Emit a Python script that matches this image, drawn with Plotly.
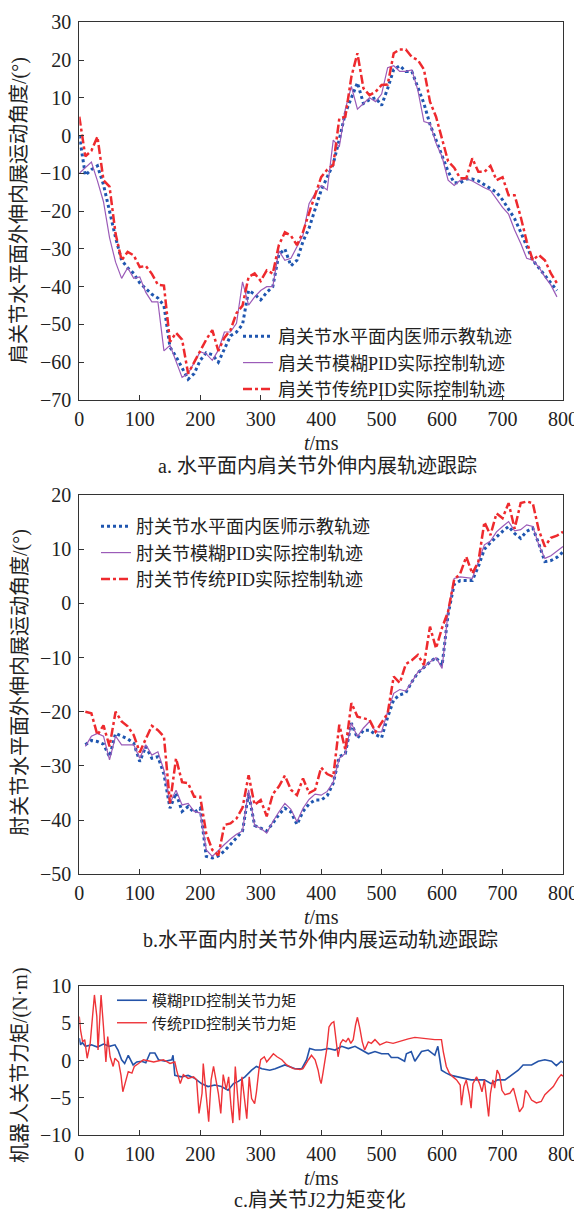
import plotly.graph_objects as go

# ---------------- Panel a data (shoulder, horizontal plane) ----------------
t_a = list(range(0, 800, 10))
a_teach = [0, -10.5, -9, -8, -13, -20, -27, -33, -35, -36.5,
           -39, -40.5, -42, -43, -45, -56, -58.5, -61.5, -64.5, -63,
           -59.5, -57.5, -58, -60, -56.5, -53, -52, -50, -41, -42,
           -43.5, -41.5, -40, -31.5, -30, -34.5, -33, -28, -24.5, -19.5,
           -14.5, -11, -7.5, -1, 6, 10, 14, 8.5, 9.5, 10,
           8, 12.5, 17.5, 18.5, 17, 17, 13, 8.5, 3, -1,
           -5, -9.5, -12.5, -12.5, -11.5, -11.5, -12, -13, -14, -15,
           -17, -19.5, -22, -25.5, -29.5, -33, -35, -37, -39, -41]
a_fuzzy = [-10, -8.5, -7, -12, -17.5, -27, -33.5, -37.8, -35, -37.8,
           -37.4, -41.5, -44, -44, -57, -55.5, -59.5, -64, -63, -60,
           -57.2, -57.8, -59.5, -56.8, -52, -52, -49.7, -38.7, -44.9, -42.7,
           -41, -40, -40, -30.5, -33, -32.5, -29.4, -26.3, -18, -15.3,
           -13.2, -14.4, -1.2, -3, 7, 13, 7, 8.5, 10, 9,
           11, 18, 18.5, 17, 17, 17.4, 12, 3.7, 3.2, -2,
           -5.6, -11.8, -13.2, -11.8, -11.4, -12, -13, -13.8, -14.5, -16.8,
           -19, -20.8, -25, -28.5, -32.5, -33, -34.8, -37.4, -39.6, -42.7]
a_pid = [5, -5.5, -4, -0.3, -11.8, -13.5, -26, -33, -30.8, -31.7,
         -34.8, -34.5, -36.6, -39.5, -39.7, -54.6, -52.2, -54, -63, -60,
         -57, -54, -51.5, -57, -53.5, -51.5, -47, -45, -37.4, -36.5,
         -38.5, -35.7, -36.5, -29, -25.6, -26.5, -29, -25.5, -20.5, -16,
         -11, -9, -7.8, 4.5, 5, 15.6, 21.8, 12.5, 10.7, 11.6,
         13.4, 13.5, 21.8, 22.8, 22.8, 20.8, 20, 17.5, 9, 5,
         -1, -6.8, -8.5, -11.3, -11.3, -6, -9.6, -9.6, -8, -11.8,
         -11, -15.8, -15.8, -21.5, -28, -33, -31.6, -33, -36.5, -39.1]

# ---------------- Panel b data (elbow, horizontal plane) ----------------
t_b = list(range(10, 810, 10))
b_teach = [-26.1, -25.3, -25.5, -26, -28.3, -24, -24.5, -25, -25.8, -29.2,
           -26.4, -28.6, -28.3, -31.5, -37.8, -35, -38.4, -37.5, -38.6, -37.8,
           -46.7, -47, -46.6, -45.7, -44.5, -43.2, -42, -35, -41, -41.5,
           -42, -40.6, -39, -37.8, -38.5, -40.8, -38.4, -37, -36.3, -36.3,
           -35.5, -33.2, -28.3, -27.7, -22.1, -24.9, -23.4, -23.4, -24.2, -24.8,
           -21, -17.8, -16.9, -16.5, -14.5, -12.8, -11.8, -10.8, -10, -11.5,
           -2, 3.5, 4.2, 4.2, 4.2, 6.8, 10, 11.2, 12.3, 13.3,
           14.2, 12.9, 12, 13.3, 13.9, 11, 7.7, 7.9, 8.5, 9.5]
b_fuzzy = [-26.4, -24.5, -24, -24.5, -28.9, -24.5, -26.1, -26.1, -26.1, -28.6,
           -26.1, -28, -27.4, -30.8, -36.9, -34.5, -37.2, -36.9, -38.4, -38.7,
           -45.5, -46.7, -45.5, -44.5, -43.5, -42.6, -42, -34.4, -41, -41.5,
           -42.4, -40.3, -38.5, -36.9, -38, -40.3, -37.8, -36.2, -35.2, -35.4,
           -34.7, -33, -28.6, -27.7, -22.1, -24.6, -23, -21.8, -23.7, -23.7,
           -20, -16.6, -15.9, -16.2, -14.5, -12.7, -11.8, -10.8, -10, -12,
           -1.5, 4.6, 4.9, 4.7, 4.6, 7.7, 10.8, 11.5, 13.2, 14.2,
           15.1, 13.4, 13.6, 14.5, 14.2, 10.8, 8.3, 8.8, 9.6, 10.5]
b_pid = [-20, -20.3, -24.3, -22.5, -26.4, -20, -21.8, -22.7, -24.3, -27.5,
         -25, -22.6, -23.4, -24.6, -36.9, -28.6, -33, -33.2, -35.7, -35.7,
         -42.5, -45.5, -46.5, -40.9, -40.6, -39.7, -37.7, -31.7, -37.2, -36.3,
         -39.3, -35.2, -33.8, -31.8, -34.4, -35.4, -32.3, -35, -34.4, -30.3,
         -31.5, -32, -22.4, -27, -18.4, -20.9, -21.2, -21.5, -23.7, -22,
         -20.3, -13.5, -14.7, -11.2, -10.5, -9.5, -11.4, -4.3, -8.3, -4.5,
         -1.5, 4.4, 5.5, 8.6, 5.5, 7.7, 15, 12.6, 16.6, 15.7,
         18.5, 13.8, 18.5, 18.8, 18.5, 13.5, 10.5, 12.1, 12.5, 13.2]

# ---------------- Panel c data (J2 torque) ----------------
t_c_fuzzy = [0, 2, 5, 10, 20, 30, 40, 50, 59, 64, 70, 75, 81, 89, 95, 103,
             110, 117, 125, 131, 142, 153, 155, 158, 169, 180, 191, 202, 213,
             224, 235, 246, 255, 263, 274, 285, 293, 302, 315, 324, 340, 357,
             368, 376, 381, 390, 400, 412, 423, 434, 445, 456, 467, 478, 489,
             500, 511, 516, 527, 538, 541, 549, 555, 560, 566, 577, 588, 593,
             599, 607, 615, 626, 637, 648, 659, 670, 681, 692, 704, 715, 726,
             734, 748, 759, 770, 781, 789, 797, 800]
c_fuzzy = [3, 2.1, 2.4, 1.9, 2.1, 1.8, 2.2, 1.9, 2.1, 1.4, 0.1, -0.4, 0.7,
           -0.6, -0.2, -0.1, -0.3, 1, 1, 0.1, -0.1, 0.1, 0.7, -2, -2.2, -2,
           -2.4, -3.1, -3.5, -3.3, -3.5, -4, -3.1, -2.8, -2.2, -1.3, -0.8,
           -1.1, -1.3, -1.1, -0.6, -1.1, -1.1, 0.1, 1.6, 1.4, 1.4, 1.6, 1.4,
           1.9, 1.6, 1.9, 1.4, 0.9, 1.2, 0.9, 0.9, 0.4, 0.4, -0.1, 0.9, 1.2,
           -0.1, 0.5, 1.2, 1.4, 0.7, 1.9, -1.3, -1.7, -2, -2.2, -2.4, -2.6,
           -2.6, -2.6, -3.1, -2.6, -2.6, -2, -1.3, -0.6, -0.6, -0.1, 0.1,
           -0.1, -0.7, -0.1, -0.3]
t_c_pid = [0, 2, 5.5, 9, 13, 18, 25, 29, 31, 36, 40, 44, 47, 51, 56, 59, 65,
           69, 72, 76, 81, 87, 91, 98, 101, 106, 123, 139, 150, 158, 161,
           167, 172, 180, 189, 194, 198, 203, 205, 209, 214, 218, 222, 226,
           230, 234, 238, 243, 247, 251, 254, 258, 262, 265, 269, 272, 277,
           281, 285, 290, 293, 297, 300, 306, 310, 315, 321, 327, 335, 343,
           354, 365, 370, 379, 384, 390, 395, 398, 400, 403, 409, 413, 417,
           421, 424, 428, 432, 436, 441, 445, 449, 453, 457, 460, 464, 468,
           472, 478, 483, 489, 497, 508, 519, 527, 536, 544, 555, 566, 577,
           588, 599, 602, 607, 612, 618, 624, 630, 632, 636, 640, 645, 648,
           651, 657, 662, 666, 670, 674, 677, 680, 684, 687, 691, 695, 699,
           704, 712, 718, 723, 728, 734, 738, 742, 748, 756, 764, 770, 775,
           784, 792, 797, 800]
c_pid = [5.9, 4.1, 2.5, 2.8, 0.3, 2.3, 8.8, 5.9, 1.4, 8.8, 4.5, -0.2, 3.2,
         0.5, -0.8, 0.3, -0.2, -2, -4.2, -3.1, -1.5, -1.7, -0.8, -0.4, -0.2,
         0.1, -0.2, 0.1, -0.4, -0.2, -1.3, -3.1, -1.9, -2.4, -2.2, -2.6,
         -7.1, -4.4, -0.4, -4.4, -8.2, -2.6, -0.8, -2.6, -4.4, -7.1, -1.9,
         -3.9, -2.2, -6.2, -8.4, -0.8, -5.3, -8, -2.2, -4.2, -7.8, -2.2,
         -5.1, -5.8, -4.2, -1.3, 0.1, 0.5, -0.2, 0.3, 0.9, 0.5, 0.1, -0.6,
         -1.1, -1.2, -1.1, 0.1, 0.7, 0.1, -1.3, -2.6, -3.1, -1.7, 1.4, 4.5,
         5, 5.2, 3.2, 0.5, 2.3, 2.8, 2.5, 3, 2.3, 2.8, 4.8, 5.8, 4.3, 2.5,
         1.4, 2.5, 2.3, 2.8, 2.1, 2.5, 2.3, 2.5, 2.8, 2.9, 3.1, 3, 2.8, 2.8,
         2.8, 1.2, -0.8, -1.7, -2.2, -2.6, -3.3, -6, -3.5, -2.6, -4.6, -6.4,
         -3.1, -2.2, -3.1, -4.2, -2.6, -5.3, -7.5, -4.4, -2.6, -3.7, -1.3,
         -1.9, -4, -4.6, -4.4, -3.7, -5.3, -6.9, -6.2, -4, -4.4, -5.3, -5.7,
         -5.5, -4.6, -4.2, -3.5, -2.4, -1.9, -2.1]

# ---------------- Text ----------------
names_a = ["肩关节水平面内医师示教轨迹", "肩关节模糊PID实际控制轨迹", "肩关节传统PID实际控制轨迹"]
names_b = ["肘关节水平面内医师示教轨迹", "肘关节模糊PID实际控制轨迹", "肘关节传统PID实际控制轨迹"]
names_c = ["模糊PID控制关节力矩", "传统PID控制关节力矩"]
ytitles = ["肩关节水平面外伸内展运动角度/(°)", "肘关节水平面外伸内展运动角度/(°)", "机器人关节力矩/(N·m)"]
captions = ["a. 水平面内肩关节外伸内展轨迹跟踪", "b.水平面内肘关节外伸内展运动轨迹跟踪", "c.肩关节J2力矩变化"]
x_ticks = [0, 100, 200, 300, 400, 500, 600, 700, 800]

FONT = "Liberation Serif, Noto Sans CJK SC, serif"
BLUE = "#1f56b0"
PURPLE = "#9b5bb8"
RED = "#ee2a2e"

# the page body adds an 8px offset; size the figure so it fills the window
OFF = 8
W, H = 582 - OFF, 1211 - OFF

def fx(p):
    return (p - OFF) / W

def fy(p):
    return 1 - (p - OFF) / H

fig = go.Figure()
style3 = [dict(color=BLUE, width=3, dash="dot"),
          dict(color=PURPLE, width=1.2),
          dict(color=RED, width=2.5, dash="dashdot")]

for ys, nm, st in zip([a_teach, a_fuzzy, a_pid], names_a, style3):
    fig.add_trace(go.Scatter(x=t_a, y=ys, name=nm, mode="lines", line=st,
                             xaxis="x", yaxis="y", legend="legend"))
for ys, nm, st in zip([b_teach, b_fuzzy, b_pid], names_b, style3):
    fig.add_trace(go.Scatter(x=t_b, y=ys, name=nm, mode="lines", line=st,
                             xaxis="x2", yaxis="y2", legend="legend2"))
fig.add_trace(go.Scatter(x=t_c_fuzzy, y=c_fuzzy, name=names_c[0], mode="lines",
                         line=dict(color="#2453a8", width=1.6),
                         xaxis="x3", yaxis="y3", legend="legend3"))
fig.add_trace(go.Scatter(x=t_c_pid, y=c_pid, name=names_c[1], mode="lines",
                         line=dict(color="#ee3338", width=1.4),
                         xaxis="x3", yaxis="y3", legend="legend3"))

xdom = [fx(79.3), fx(563)]
axis_common = dict(showline=True, linecolor="#333", linewidth=1, mirror=True,
                   ticks="inside", ticklen=5, tickcolor="#333", showgrid=False,
                   zeroline=False, automargin=False,
                   tickfont=dict(family=FONT, size=20, color="#222"))

def xax(anchor):
    return dict(axis_common, domain=xdom, range=[0, 800], tickvals=x_ticks,
                anchor=anchor, ticklabelstandoff=1)

def yax(anchor, lo, hi, rng, dt):
    return dict(axis_common, domain=[fy(lo), fy(hi)], range=rng, dtick=dt,
                anchor=anchor, ticklabelstandoff=3)

leg_common = dict(xanchor="left", yanchor="top", bgcolor="rgba(0,0,0,0)",
                  borderwidth=0)

fig.update_layout(
    width=W, height=H, autosize=False,
    margin=dict(l=0, r=0, t=0, b=0, pad=0, autoexpand=False),
    paper_bgcolor="white", plot_bgcolor="white",
    font=dict(family=FONT, color="#222"),
    xaxis=xax("y"),
    yaxis=yax("x", 400, 22.3, [-70, 30], 10),
    xaxis2=xax("y2"),
    yaxis2=yax("x2", 874.3, 495, [-50, 20], 10),
    xaxis3=xax("y3"),
    yaxis3=yax("x3", 1135, 986, [-10, 10], 5),
    legend=dict(leg_common, x=fx(238), y=fy(318),
                font=dict(family=FONT, size=18, color="#222")),
    legend2=dict(leg_common, x=fx(96), y=fy(508),
                 font=dict(family=FONT, size=18, color="#222")),
    legend3=dict(leg_common, x=fx(112), y=fy(984),
                 font=dict(family=FONT, size=15, color="#222")),
)

ann = []
for yc, txt in zip([211, 683, 1065], ytitles):
    ann.append(dict(x=fx(20), y=fy(yc), xref="paper", yref="paper", text=txt,
                    textangle=-90, showarrow=False, xanchor="center", yanchor="middle",
                    font=dict(family=FONT, size=20, color="#222")))
for yc, txt in zip([443, 917, 1178], ["<i>t</i>/ms"] * 3):
    ann.append(dict(x=fx(321), y=fy(yc), xref="paper", yref="paper", text=txt,
                    showarrow=False, xanchor="center", yanchor="middle",
                    font=dict(family=FONT, size=20, color="#222")))
for yc, xc, txt in zip([466, 940, 1200], [317, 320, 320], captions):
    ann.append(dict(x=fx(xc), y=fy(yc), xref="paper", yref="paper", text=txt,
                    showarrow=False, xanchor="center", yanchor="middle",
                    font=dict(family=FONT, size=20, color="#222")))
fig.update_layout(annotations=ann)

fig.write_html("out.html")
